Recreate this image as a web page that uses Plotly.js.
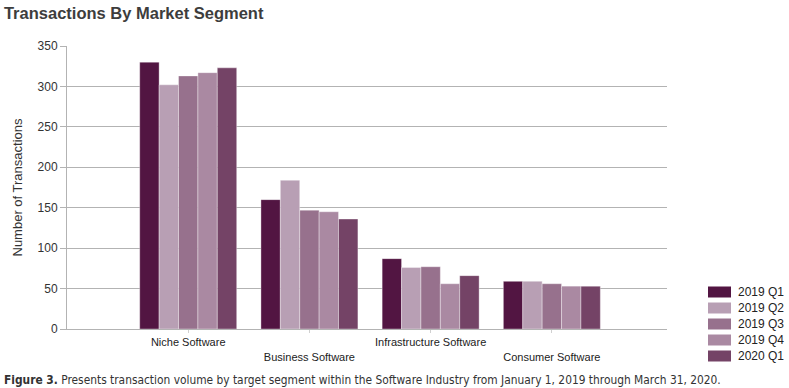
<!DOCTYPE html>
<html>
<head>
<meta charset="utf-8">
<script src="https://cdn.plot.ly/plotly-3.0.1.min.js"></script>
<style>
html,body{margin:0;padding:0;background:#fff;}
#wrap{position:relative;width:789px;height:388px;}
#chart{position:absolute;left:0;top:0;width:789px;height:388px;}
#caption{position:absolute;left:4px;top:373px;font-family:"DejaVu Sans Condensed","DejaVu Sans",sans-serif;font-size:11.85px;color:#333;white-space:nowrap;}
</style>
</head>
<body>
<div id="wrap">
<div id="chart"></div>
<div id="caption"><b>Figure 3.</b> Presents transaction volume by target segment within the Software Industry from January 1, 2019 through March 31, 2020.</div>
</div>
<script>
const categories = ["Niche Software", "Business Software", "Infrastructure Software", "Consumer Software"];
const tickLabels = ["Niche Software", "<br>Business Software", "Infrastructure Software", "<br>Consumer Software"];
const seriesNames = ["2019 Q1", "2019 Q2", "2019 Q3", "2019 Q4", "2020 Q1"];
const q1_2019 = [330, 160, 87, 59];
const q2_2019 = [302, 184, 76, 59];
const q3_2019 = [313, 147, 77, 56];
const q4_2019 = [317, 145, 56, 53];
const q1_2020 = [323, 136, 66, 53];
const seriesValues = [q1_2019, q2_2019, q3_2019, q4_2019, q1_2020];
const colors = ["#521542", "#b89fb4", "#97718d", "#aa89a2", "#744366"];

const traces = seriesNames.map((name, i) => ({
  type: "bar",
  name: name,
  x: categories.map((c, j) => j),
  y: seriesValues[i],
  marker: {color: colors[i], line: {color: "rgba(255,255,255,0.6)", width: 0.6}},
  showlegend: false,
  hoverinfo: "skip"
}));

// Legend (wide swatches), laid out in paper coordinates
const W = 789, H = 388, M = {l: 67, r: 122, t: 46, b: 59};
const pw = W - M.l - M.r, ph = H - M.t - M.b;
const px = v => (v - M.l) / pw;
const py = v => (H - M.b - v) / ph;
const legShapes = [], legAnn = [];
seriesNames.forEach((name, i) => {
  const cy = 292 + i * 16;
  legShapes.push({type: "rect", xref: "paper", yref: "paper", x0: px(708), x1: px(731), y0: py(cy + 5.5), y1: py(cy - 5.5),
                  fillcolor: colors[i], line: {width: 0}});
  legAnn.push({xref: "paper", yref: "paper", x: px(736), y: py(cy), xanchor: "left", yanchor: "middle",
               text: name, showarrow: false, font: {size: 12, color: "#222"}});
});

const layout = {
  width: W, height: H,
  margin: {l: M.l, r: M.r, t: M.t, b: M.b, pad: 0},
  paper_bgcolor: "#fff", plot_bgcolor: "#fff",
  font: {family: "Liberation Sans, Arial, sans-serif", size: 11, color: "#333"},
  title: {text: "<b>Transactions By Market Segment</b>", x: 0.005, xanchor: "left", y: 0.98, yanchor: "top",
          font: {family: "Liberation Sans, Arial, sans-serif", size: 16.5, color: "#3d3d3d"}},
  barmode: "group", bargap: 0.2, bargroupgap: 0,
  showlegend: false,
  shapes: legShapes,
  annotations: legAnn,
  xaxis: {
    range: [-1.0, 3.95], tickmode: "array", tickvals: [0, 1, 2, 3], ticktext: tickLabels,
    showgrid: false, zeroline: false, showline: true, linecolor: "#b3b3b3", linewidth: 1,
    ticks: "outside", ticklen: 3, tickcolor: "#d0d0d0", tickfont: {size: 11, color: "#222"}, fixedrange: true
  },
  yaxis: {
    range: [0, 350], dtick: 50, showgrid: true, gridcolor: "#b3b3b3", gridwidth: 1,
    zeroline: false, showline: true, linecolor: "#b3b3b3", linewidth: 1,
    ticks: "outside", ticklen: 6, tickcolor: "#b3b3b3", tickfont: {size: 12, color: "#333"},
    title: {text: "Number of Transactions", font: {size: 13, color: "#333"}, standoff: 12}, fixedrange: true
  }
};

Plotly.newPlot("chart", traces, layout, {displayModeBar: false, staticPlot: true});
</script>
</body>
</html>
